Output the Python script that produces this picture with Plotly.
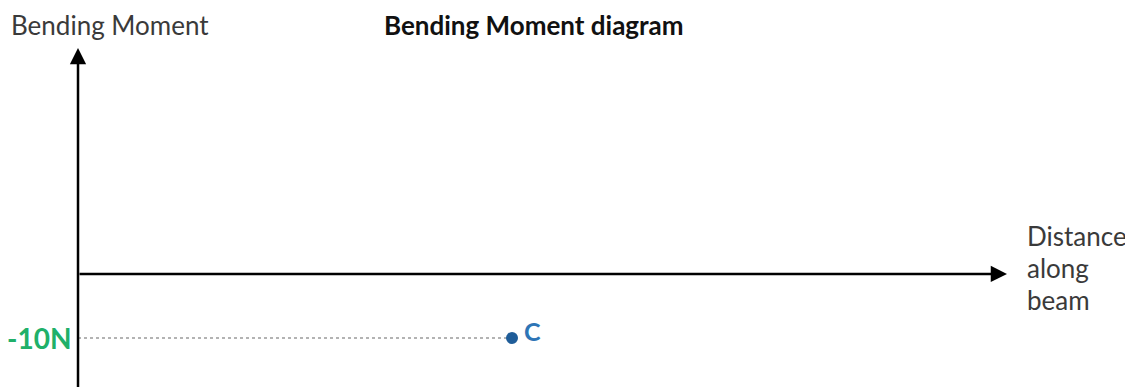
import plotly.graph_objects as go

# ---- data ----
distance = [0, 4]          # dotted guide from y-axis to point C
moment = [-10, -10]        # bending moment values (N)
point_x = [4]
point_y = [-10]
point_labels = ["C"]
tick_values = [-10]
tick_labels = ["-10N"]

W, H = 1133, 387
OFF = 8  # page body margin compensation
x_range = [-0.6452, 9.797]
y_range = [-18.91, 41.56]

FONT = "Lato"

fig = go.Figure()

# dotted guide line
fig.add_trace(go.Scatter(
    x=distance, y=moment, mode="lines",
    line=dict(color="#9a9a9a", width=1.5, dash="dot"),
    hoverinfo="skip", showlegend=False))

# point C
fig.add_trace(go.Scatter(
    x=point_x, y=point_y, mode="markers",
    marker=dict(size=12, color="#1f5d99"),
    hoverinfo="skip", showlegend=False))

annotations = []
for xx, yy, lab in zip(point_x, point_y, point_labels):
    annotations.append(dict(x=xx, y=yy, xref="x", yref="y", text="<b>%s</b>" % lab,
                            showarrow=False, xanchor="left", yanchor="middle",
                            xshift=10, yshift=7,
                            font=dict(family=FONT, size=25, color="#2e75b6")))
# x axis arrow
annotations.append(dict(x=8.562, y=0, ax=0, ay=0, xref="x", yref="y", axref="x", ayref="y",
                        showarrow=True, arrowhead=2, arrowsize=1.3, arrowwidth=2.5,
                        arrowcolor="#000000", text=""))
# y axis arrow
annotations.append(dict(x=0, y=35.31, ax=0, ay=y_range[0] - 1, xref="x", yref="y", axref="x", ayref="y",
                        showarrow=True, arrowhead=2, arrowsize=1.3, arrowwidth=2.5,
                        arrowcolor="#000000", text=""))
# tick label
for v, lab in zip(tick_values, tick_labels):
    annotations.append(dict(x=0, y=v, xref="x", yref="y", text="<b>%s</b>" % lab,
                            showarrow=False, xanchor="right", yanchor="middle", xshift=-4,
                            font=dict(family=FONT, size=28, color="#20b069")))

def px(p):
    return (p - OFF) / W

def py(p):
    return 1 - (p - OFF) / H

annotations.append(dict(x=px(10), y=1, xref="paper", yref="paper", text="Bending Moment",
                        showarrow=False, xanchor="left", yanchor="top", borderpad=0,
                        font=dict(family=FONT, size=26, color="#3a3a3a")))
annotations.append(dict(x=px(383), y=1, xref="paper", yref="paper", text="<b>Bending Moment diagram</b>",
                        showarrow=False, xanchor="left", yanchor="top", borderpad=0,
                        font=dict(family=FONT, size=26, color="#111111")))
for txt, yy in [("Distance", 236), ("along", 268), ("beam", 300)]:
    annotations.append(dict(x=px(1025), y=py(yy), xref="paper", yref="paper", text=txt,
                            showarrow=False, xanchor="left", yanchor="middle",
                            font=dict(family=FONT, size=26, color="#3a3a3a")))

fig.update_layout(
    width=W, height=H,
    margin=dict(l=0, r=0, t=0, b=0),
    paper_bgcolor="white", plot_bgcolor="white",
    xaxis=dict(range=x_range, visible=False, fixedrange=True),
    yaxis=dict(range=y_range, visible=False, fixedrange=True),
    annotations=annotations,
    showlegend=False,
)

fig.write_html("out.html")
